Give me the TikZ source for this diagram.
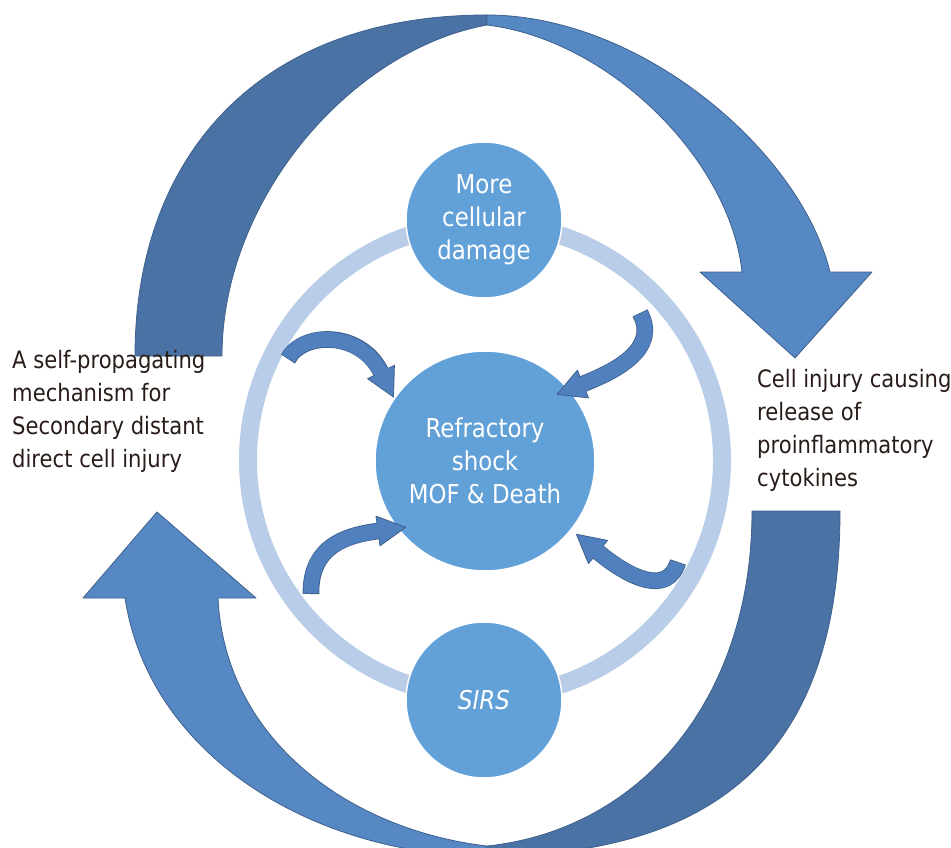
\documentclass[tikz,border=0pt]{standalone}
\usepackage{fontspec}
\setmainfont{DejaVu Sans}[FakeStretch=0.88]
\usetikzlibrary{calc}

\definecolor{circblue}{RGB}{98,160,216}
\definecolor{ringblue}{RGB}{185,205,232}
\definecolor{bandlight}{RGB}{86,136,196}
\definecolor{banddark}{RGB}{74,114,164}
\definecolor{bandedge}{RGB}{62,96,140}
\definecolor{arrowblue}{RGB}{80,128,190}
\definecolor{txtdark}{RGB}{40,28,24}

\begin{document}
\begin{tikzpicture}[x=1pt,y=-1pt,
  stage/.style={circle,fill=circblue,draw=white,line width=1.5pt,text=white,align=center,font=\fontsize{26}{33}\selectfont},
  sidetext/.style={align=left,text=txtdark,font=\fontsize{24}{33}\selectfont,inner sep=0pt},
  band/.style={draw=bandedge,line width=0.8pt,line join=round},
  curlout/.style={line width=16.6pt,bandedge},
  curlin/.style={line width=15pt,arrowblue,shorten <=0.8pt,shorten >=-2pt}]
\useasboundingbox (0,0) rectangle (951,848);

% big loop arrow over the top
\path[band,fill=banddark] (135,356) .. controls (135,160) and (255,15) .. (487,15) -- (487,25) .. controls (350,50) and (222,200) .. (222,356) -- cycle;
\path[band,fill=bandlight] (487,15) .. controls (640,15) and (800,150) .. (830,272) -- (872,272) -- (795,358) -- (700,272) -- (742,272) .. controls (730,160) and (610,40) .. (487,25) -- cycle;

% big loop arrow under the bottom
\path[band,fill=banddark] (840,511) .. controls (840,730) and (740,856) .. (487,856) -- (487,846) .. controls (640,830) and (752,700) .. (752,511) -- cycle;
\path[band,fill=bandlight] (125,598) .. controls (150,760) and (320,856) .. (487,856) -- (487,846) .. controls (350,830) and (225,740) .. (218,598) -- (256,598) -- (157,512) -- (83,598) -- cycle;

% light ring behind the stages
\draw[ringblue,line width=18pt] (485,460) circle (237pt);

\node[stage,minimum size=220pt] (shock) at (485,461) {Refractory\\shock\\MOF \& Death};
\node[stage,minimum size=156pt] (dmg) at (484,220) {More\\cellular\\damage};
\node[stage,minimum size=156pt] (sirs) at (484,700) {\itshape SIRS};

\node[sidetext,anchor=west] (selfprop) at (12,411) {A self-propagating\\mechanism for\\Secondary distant\\direct cell injury};
\node[sidetext,anchor=west] (injury) at (757,430) {Cell injury causing\\release of\\proinflammatory\\cytokines};

% small curled arrows into the shock node
\coordinate (t1) at (288,359); \coordinate (u1) at (302,332); \coordinate (v1) at (360,330); \coordinate (h1) at (381,372);
\coordinate (t2) at (640,313); \coordinate (u2) at (660,350); \coordinate (v2) at (613,372); \coordinate (h2) at (583,384);
\coordinate (t3) at (311,594); \coordinate (u3) at (310,545); \coordinate (v3) at (348,535); \coordinate (h3) at (378,531);
\coordinate (t4) at (678,562); \coordinate (u4) at (668,595); \coordinate (v4) at (632,580); \coordinate (h4) at (598,552);
\foreach \i in {1,...,4}{
  \draw[curlout] (t\i) .. controls (u\i) and (v\i) .. (h\i);
  \path[band,fill=arrowblue] ($(h\i)!15pt!90:(v\i)$) -- ($(h\i)!-28pt!(v\i)$) -- ($(h\i)!15pt!-90:(v\i)$) -- cycle;
  \draw[curlin] (t\i) .. controls (u\i) and (v\i) .. (h\i);
}

\end{tikzpicture}
\end{document}
